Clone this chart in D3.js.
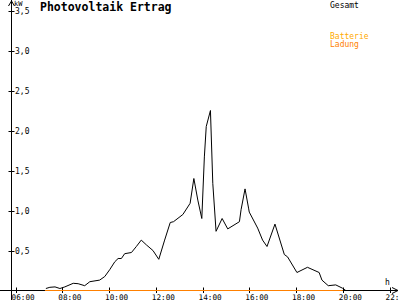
<!DOCTYPE html>
<html>
<head>
<meta charset="utf-8">
<script src="https://cdn.jsdelivr.net/npm/d3@7"></script>
<style>
  body { margin: 0; background: #fff; }
  svg { display: block; font-family: "DejaVu Sans Mono", monospace; }
</style>
</head>
<body>
<div id="chart"></div>
<script>
// Stunden (Dezimal) und Leistung in kW
const gesamtHours = [7.30, 7.47, 7.69, 7.90, 8.11, 8.47, 8.68, 8.96, 9.18, 9.60, 9.82, 10.03, 10.25, 10.39, 10.53, 10.67, 10.96, 11.17, 11.38, 11.60, 11.88, 12.13, 12.38, 12.62, 12.76, 13.16, 13.47, 13.63, 13.80, 13.97, 14.08, 14.16, 14.34, 14.44, 14.58, 14.84, 15.08, 15.58, 15.65, 15.82, 15.97, 16.00, 16.36, 16.57, 16.76, 17.10, 17.50, 17.64, 18.04, 18.49, 18.99, 19.11, 19.38, 19.70, 19.98, 20.13];
const gesamtKW = [0.025, 0.04, 0.045, 0.025, 0.045, 0.09, 0.085, 0.06, 0.11, 0.13, 0.175, 0.26, 0.36, 0.40, 0.40, 0.46, 0.475, 0.55, 0.63, 0.57, 0.50, 0.39, 0.63, 0.85, 0.86, 0.95, 1.09, 1.40, 1.13, 0.90, 1.67, 2.05, 2.25, 1.34, 0.74, 0.90, 0.77, 0.86, 1.01, 1.27, 1.03, 0.98, 0.78, 0.63, 0.55, 0.83, 0.45, 0.42, 0.225, 0.29, 0.225, 0.13, 0.06, 0.07, 0.03, 0.0];
const ladungHours = [7.26, 20.0];
const ladungKW = [0, 0];

const xTicks = [6, 8, 10, 12, 14, 16, 18, 20, 22];
const xTickLabels = ["06:00", "08:00", "10:00", "12:00", "14:00", "16:00", "18:00", "20:00", "22:"];
const yTicks = [0.5, 1.0, 1.5, 2.0, 2.5, 3.0, 3.5];
const yTickLabels = ["0,5", "1,0", "1,5", "2,0", "2,5", "3,0", "3,5"];

const width = 400, height = 300;

const svg = d3.select('#chart').append('svg')
    .attr('width', width)
    .attr('height', height);

const x = d3.scaleLinear().domain([6, 22]).range([15.5, 389.5]);
const y = d3.scaleLinear().domain([0, 3.5]).range([290.5, 10.5]);
const axisX = 11.5;

// Achsen
svg.append('line')
    .attr('x1', axisX).attr('x2', axisX)
    .attr('y1', 0).attr('y2', height)
    .attr('stroke', 'black');
svg.append('path')
    .attr('d', `M${axisX - 3},6 L${axisX},1 L${axisX + 3},6`)
    .attr('fill', 'none').attr('stroke', 'black');

svg.append('line')
    .attr('x1', 0).attr('x2', 398)
    .attr('y1', y(0)).attr('y2', y(0))
    .attr('stroke', 'black');
svg.append('path')
    .attr('d', `M392,${y(0) - 3} L398,${y(0)} L392,${y(0) + 3}`)
    .attr('fill', 'none').attr('stroke', 'black');

// y ticks
svg.selectAll('.ytick')
    .data(yTicks)
    .enter().append('line')
    .attr('class', 'ytick')
    .attr('x1', axisX - 3).attr('x2', axisX + 3)
    .attr('y1', d => Math.round(y(d)) + 0.5)
    .attr('y2', d => Math.round(y(d)) + 0.5)
    .attr('stroke', 'black');
svg.selectAll('.ylabel')
    .data(yTicks)
    .enter().append('text')
    .attr('class', 'ylabel')
    .attr('x', 15)
    .attr('y', d => y(d) + 3.5)
    .attr('font-size', 8)
    .text((d, i) => yTickLabels[i]);

svg.append('text')
    .attr('x', 14).attr('y', 6)
    .attr('font-size', 7)
    .text('kW');

// x ticks
svg.selectAll('.xtick')
    .data(xTicks)
    .enter().append('line')
    .attr('class', 'xtick')
    .attr('x1', d => Math.round(x(d)) + 0.5)
    .attr('x2', d => Math.round(x(d)) + 0.5)
    .attr('y1', y(0) - 3).attr('y2', 293)
    .attr('stroke', 'black');
svg.selectAll('.xlabel')
    .data(xTicks)
    .enter().append('text')
    .attr('class', 'xlabel')
    .attr('x', d => x(d) - 4)
    .attr('y', 299.5)
    .attr('font-size', 7.7)
    .text((d, i) => xTickLabels[i]);

svg.append('text')
    .attr('x', 385).attr('y', 284.5)
    .attr('font-size', 8)
    .text('h');

// Titel
svg.append('text')
    .attr('x', 40).attr('y', 11)
    .attr('font-size', 11.5)
    .attr('font-weight', 'bold')
    .text('Photovoltaik Ertrag');

// Legende
svg.append('text').attr('x', 330).attr('y', 7.5).attr('font-size', 8)
    .attr('fill', 'black').text('Gesamt');
svg.append('text').attr('x', 330).attr('y', 39).attr('font-size', 8)
    .attr('fill', '#ffaa00').text('Batterie');
svg.append('text').attr('x', 330).attr('y', 46.5).attr('font-size', 8)
    .attr('fill', '#ff8000').text('Ladung');

// Linien
const line = d3.line()
    .x(d => x(d[0]))
    .y(d => y(d[1]));

svg.append('path')
    .datum(ladungHours.map((h, i) => [h, ladungKW[i]]))
    .attr('d', line)
    .attr('fill', 'none')
    .attr('stroke', '#ff8000')
    .attr('stroke-width', 1);

svg.append('path')
    .datum(gesamtHours.map((h, i) => [h, gesamtKW[i]]))
    .attr('d', line)
    .attr('fill', 'none')
    .attr('stroke', 'black')
    .attr('stroke-width', 1);
</script>
</body>
</html>
